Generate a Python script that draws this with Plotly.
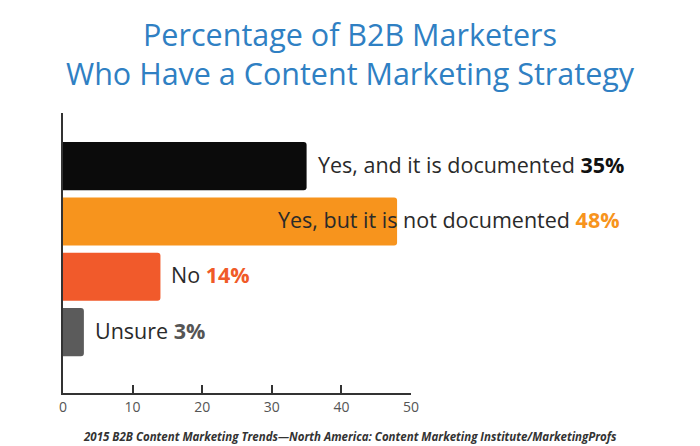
import plotly.graph_objects as go

categories = ["Yes, and it is documented", "Yes, but it is not documented", "No", "Unsure"]
values = [35, 48, 14, 3]
tick_values = [0, 10, 20, 30, 40, 50]
tick_labels = ["0", "10", "20", "30", "40", "50"]
title_lines = ["Percentage of B2B Marketers", "Who Have a Content Marketing Strategy"]
source_note = "2015 B2B Content Marketing Trends\u2014North America: Content Marketing Institute/MarketingProfs"

bar_colors = ["#0b0b0b", "#f7941d", "#f15a2b", "#5b5b5b"]
pct_colors = ["#111111", "#f7941d", "#f05a28", "#555555"]
label_shift = [9, -121, 9, 9]

W, H = 700, 446
L, R, T, B = 63, 289, 113, 53
PW, PH = W - L - R, H - T - B


def px_x(px):
    return (px - L) / PW


def px_y(py):
    return (H - B - py) / PH


positions = list(range(len(categories)))

fig = go.Figure()
fig.add_trace(go.Bar(
    x=values, y=positions, orientation="h",
    marker=dict(color=bar_colors, line=dict(width=0)),
    width=0.87, hoverinfo="skip",
))

annotations = []
for i, (cat, v) in enumerate(zip(categories, values)):
    annotations.append(dict(
        x=v, y=i, xref="x", yref="y", xanchor="left", yanchor="middle",
        xshift=label_shift[i], yshift=2, showarrow=False,
        text=f"{cat} <b><span style='color:{pct_colors[i]}'>{v}%</span></b>",
        font=dict(family="Open Sans", size=21.5, color="#2a2a2a"),
    ))

for line, cy in zip(title_lines, [34, 73]):
    annotations.append(dict(
        x=px_x(350), y=px_y(cy), xref="paper", yref="paper",
        xanchor="center", yanchor="middle", showarrow=False,
        text=line,
        font=dict(family="Open Sans", size=30.5, color="#2f80c3"),
    ))

annotations.append(dict(
    x=px_x(350), y=px_y(436), xref="paper", yref="paper",
    xanchor="center", yanchor="middle", showarrow=False,
    text=f"<b><i>{source_note}</i></b>",
    font=dict(family="Open Sans", size=11.5, color="#333333"),
))

fig.update_layout(
    width=W, height=H,
    margin=dict(l=L, r=R, t=T, b=B),
    paper_bgcolor="white", plot_bgcolor="white",
    showlegend=False,
    barcornerradius=3,
    xaxis=dict(
        range=[0, 50], tickvals=tick_values, ticktext=tick_labels,
        showgrid=False, zeroline=False, showline=True,
        linecolor="#333333", linewidth=2,
        ticks="inside", ticklen=8, tickwidth=2, tickcolor="#333333",
        tickfont=dict(family="Open Sans", size=14, color="#555555"),
        fixedrange=True,
    ),
    yaxis=dict(
        range=[4.1, -0.96], showgrid=False, zeroline=False,
        showline=True, linecolor="#333333", linewidth=2,
        showticklabels=False, ticks="", fixedrange=True,
    ),
    annotations=annotations,
)

fig.write_html(
    "out.html",
    config={"displayModeBar": False},
    post_script="document.body.style.margin='0';",
)
